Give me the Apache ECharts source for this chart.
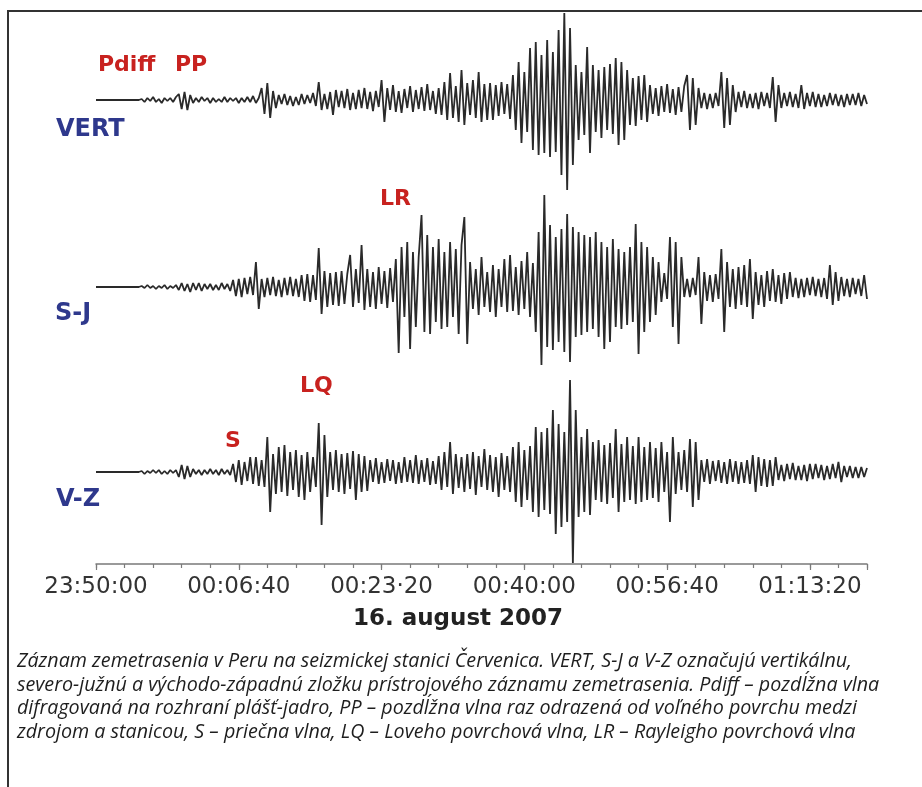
<!DOCTYPE html>
<html>
<head>
<meta charset="utf-8">
<script src="https://cdn.jsdelivr.net/npm/echarts@6/dist/echarts.min.js"></script>
<style>
html,body{margin:0;padding:0;background:#fff;}
#chart{width:922px;height:787px;}
</style>
</head>
<body>
<div id="chart"></div>
<script>
// Sampling step of the traces (seconds after 23:50:00)
const SAMPLE_STEP = 20;
const AXIS_MAX = 5400;
const TICK_SECONDS = [0, 1000, 2000, 3000, 4000, 5000];
const TICK_LABELS = ['23:50:00', '00:06:40', '00:23·20', '00:40:00', '00:56:40', '01:13:20'];
const DATE_LABEL = '16. august 2007';
const TRACE_NAMES = ['VERT', 'S-J', 'V-Z'];

// Ground motion (relative amplitude)
const vert = [
0,0,0,0,0,0,0,0,0,0,0,0,0,0,0,0,
1,-2,2,-1,3,-2,1,-3,2,-1,2,-2,3,
6,-9,8,-10,5,
-3,2,-2,3,-1,2,-3,2,-2,1,-2,3,-2,2,-1,2,-3,2,-2,3,-2,4,-3,2,
12,-14,17,-18,9,-8,
5,-4,6,-5,4,-6,3,-5,6,-4,5,-3,7,-6,
18,-10,
6,-9,8,-15,10,-7,9,-8,11,-10,7,-9,10,-8,12,-9,8,-11,9,-7,
20,-22,
12,-10,15,-12,9,-13,11,-8,14,-12,10,-9,13,-11,16,-10,9,-14,12,
-15,18,-20,27,-18,14,-22,30,-25,17,-15,20,-18,28,-22,16,-20,
17,-20,15,-16,18,-14,16,-19,
25,-30,38,-43,28,-32,
52,-50,58,-55,45,-53,60,-57,48,-52,
70,-75,87,-90,72,-65,
35,-40,28,-35,53,
-53,
35,-32,30,-38,33,-30,36,-34,
42,-45,38,-40,30,
-25,22,-26,24,-20,25,-22,
15,-14,12,-16,14,-12,16,-13,11,-15,13,-12,14,
25,-30,22,-25,12,
-8,7,-9,6,-8,7,-6,
28,-28,22,-25,15,-12,
8,-7,9,-8,6,-8,7,-9,8,-6,7,-8,
23,-22,15,
-8,7,-6,8,-7,6,-8,15,-9,7,-6,8,-7,6,-7,5,-6,7,-5,6,-6,5,-7,6,-5,6,-5,7,-6,5,-4
];

const sj = [
0,0,0,0,0,0,0,0,0,0,0,0,0,0,0,0,
1,-1,2,-1,1,-2,1,-1,2,-2,1,-1,2,
-3,4,-4,3,-5,4,-3,4,-4,3,
-2,3,-3,2,-3,4,-2,3,-4,
7,-9,8,-10,9,-7,10,-8,
25,-22,
8,-10,9,-8,10,-9,7,-10,9,-8,10,-9,8,-10,
12,-14,13,-15,12,-13,
39,-27,
16,-20,14,-18,15,-19,16,-17,13,
32,-20,
18,-16,
42,-23,
18,-20,15,-22,20,-17,16,-21,19,
-15,28,
-66,40,-30,45,-62,35,
-40,30,
72,-45,
52,-47,40,-35,48,-42,35,-40,45,-30,38,-47,42,
70,-57,
25,-22,18,-28,30,-20,15,-25,22,-30,18,-20,28,-25,32,-24,20,-28,26,-22,35,-30,24,
-45,55,-78,
92,
-60,62,-63,50,-55,58,
-65,73,-75,60,
-50,55,-48,52,-45,50,-42,
55,-50,45,-62,40,-55,48,
-40,38,-42,35,-38,40,-35,63,
-67,45,-45,40,-35,30,-28,
25,-15,14,-12,
50,-40,45,-57,30,
-10,8,-10,9,
-8,30,-37,
15,-14,12,-15,13,-12,
38,-45,25,
-20,18,-22,20,-18,22,-20,
28,-32,
15,-18,12,-20,16,-14,18,-15,12,-17,14,-12,15,
-10,9,-11,8,-10,9,-8,10,-9,8,-10,9,
-12,22,-18,15,-14,
10,-9,8,-10,9,-7,8,-9,12,-12
];

const vz = [
0,0,0,0,0,0,0,0,0,0,0,0,0,0,0,0,
1,-2,1,-1,2,-1,2,-2,1,-2,2,-1,2,
-5,7,-7,6,-5,
3,-2,2,-3,2,-2,3,-2,2,-3,3,-2,2,-3,
8,-10,12,-13,10,-9,15,-12,
15,-14,12,-15,
35,-40,
18,-22,25,-20,27,-24,20,-18,22,-25,17,-28,20,
-20,15,
-15,
49,
-53,
37,-25,
20,-18,22,-20,18,-22,19,-17,21,-28,18,-20,16,-19,
12,-10,14,-12,10,-11,13,-9,12,-12,10,-11,15,-10,12,-11,
17,-12,
12,-10,14,-13,11,-12,
16,-18,20,-15,30,-22,18,-16,
15,-20,18,-17,20,-23,16,-15,23,-18,17,-20,15,-25,19,-18,16,-20,
25,-30,30,-35,22,-28,26,
-40,45,-45,40,-38,44,-42,
62,-62,
48,-55,
40,-50,
92,-91,
62,-45,35,-40,
43,-43,
30,-28,32,-30,27,-32,29,-26,
43,-40,
28,-30,35,-28,26,-32,35,-30,25,-28,30,-26,24,-30,30,
-20,20,-50,
35,-22,
20,-18,22,
-20,33,-35,30,-28,
12,-10,13,-12,11,-9,12,-11,10,-12,13,-10,11,-12,10,
-11,12,
-12,17,-20,
15,-14,13,-15,12,-14,15,
-8,7,-9,8,-7,9,-8,6,-8,7,-9,8,-7,8,-6,7,-8,
6,-7,8,-6,
10,-10,
6,-5,6,-6,5,-6,5,-5,4
];

function toPairs(arr) {
  return arr.map(function (v, i) { return [i * SAMPLE_STEP, v]; });
}

const RED = '#c8221f';
const BLUE = '#2e388c';
const LABEL_FONT = '"DejaVu Sans", Verdana, sans-serif';

function txt(text, x, y, color, size, weight, extra) {
  const st = {
    text: text, x: x, y: y, fill: color,
    font: (weight || 'bold') + ' ' + size + 'px ' + LABEL_FONT,
    align: 'left', verticalAlign: 'middle',
    textAlign: 'left', textVerticalAlign: 'middle'
  };
  if (extra) Object.assign(st, extra);
  return { type: 'text', style: st, z: 10 };
}

const CAPTION = [
  'Záznam zemetrasenia v Peru na seizmickej stanici Červenica. VERT, S-J a V-Z označujú vertikálnu,',
  'severo-južnú a východo-západnú zložku prístrojového záznamu zemetrasenia. Pdiff – pozdĺžna vlna',
  'difragovaná na rozhraní plášť-jadro, PP – pozdĺžna vlna raz odrazená od voľného povrchu medzi',
  'zdrojom a stanicou, S – priečna vlna, LQ – Loveho povrchová vlna, LR – Rayleigho povrchová vlna'
];
const CAPTION_Y = [661, 685, 708, 732];

const graphics = [
  { type: 'line', shape: { x1: 7, y1: 11, x2: 922, y2: 11 }, style: { stroke: '#333', lineWidth: 2 } },
  { type: 'line', shape: { x1: 8, y1: 10, x2: 8, y2: 787 }, style: { stroke: '#333', lineWidth: 2 } },
  txt('Pdiff', 98, 65, RED, 22),
  txt('PP', 175, 65, RED, 22),
  txt('LR', 380, 199, RED, 22),
  txt('LQ', 300, 386, RED, 22),
  txt('S', 225, 441, RED, 22),
  txt(TRACE_NAMES[0], 56, 130, BLUE, 24),
  txt(TRACE_NAMES[1], 55, 314, BLUE, 24),
  txt(TRACE_NAMES[2], 56, 500, BLUE, 24),
  txt(DATE_LABEL, 458, 619, '#222', 23, 'bold', { align: 'center', textAlign: 'center' })
];
CAPTION.forEach(function (line, k) {
  graphics.push({
    type: 'text', z: 10,
    style: {
      text: line, x: 17, y: CAPTION_Y[k], fill: '#1e1e1e',
      font: 'italic 19.7px "Open Sans", "Noto Sans", sans-serif',
      align: 'left', verticalAlign: 'middle', textAlign: 'left', textVerticalAlign: 'middle'
    }
  });
});

const traceStyle = { color: '#2a2a2a', width: 1.8 };

const option = {
  animation: false,
  backgroundColor: '#fff',
  grid: [
    { left: 96, right: 55, top: 0, height: 200 },
    { left: 96, right: 55, top: 187, height: 200 },
    { left: 96, right: 55, top: 372, height: 192 }
  ],
  xAxis: [
    { gridIndex: 0, type: 'value', min: 0, max: AXIS_MAX, show: false },
    { gridIndex: 1, type: 'value', min: 0, max: AXIS_MAX, show: false },
    {
      gridIndex: 2, type: 'value', min: 0, max: AXIS_MAX, interval: 200, position: 'bottom',
      axisLine: { show: true, onZero: false, lineStyle: { color: '#7a7a7a', width: 1.5 } },
      axisTick: { show: true, inside: false, length: 4, lineStyle: { color: '#7a7a7a', width: 1.2 } },
      axisLabel: { show: false }, splitLine: { show: false }
    },
    {
      gridIndex: 2, type: 'value', min: 0, max: AXIS_MAX, interval: 1000, position: 'bottom',
      axisLine: { show: false, onZero: false },
      axisTick: { show: true, inside: false, length: 6, lineStyle: { color: '#7a7a7a', width: 1.2 } },
      axisLabel: {
        show: true, margin: 12, fontSize: 23, color: '#333', fontFamily: 'DejaVu Sans',
        formatter: function (v) {
          const k = TICK_SECONDS.indexOf(v);
          return k >= 0 ? TICK_LABELS[k] : '';
        }
      },
      splitLine: { show: false }
    }
  ],
  yAxis: [
    { gridIndex: 0, type: 'value', min: -100, max: 100, show: false },
    { gridIndex: 1, type: 'value', min: -100, max: 100, show: false },
    { gridIndex: 2, type: 'value', min: -92, max: 100, show: false }
  ],
  series: [
    { name: TRACE_NAMES[0], type: 'line', xAxisIndex: 0, yAxisIndex: 0, data: toPairs(vert), showSymbol: false, symbol: 'none', lineStyle: traceStyle, clip: false, silent: true },
    { name: TRACE_NAMES[1], type: 'line', xAxisIndex: 1, yAxisIndex: 1, data: toPairs(sj), showSymbol: false, symbol: 'none', lineStyle: traceStyle, clip: false, silent: true },
    { name: TRACE_NAMES[2], type: 'line', xAxisIndex: 2, yAxisIndex: 2, data: toPairs(vz), showSymbol: false, symbol: 'none', lineStyle: traceStyle, clip: false, silent: true }
  ],
  graphic: graphics
};

const chart = echarts.init(document.getElementById('chart'), null, { renderer: 'canvas' });
chart.setOption(option);
</script>
</body>
</html>
